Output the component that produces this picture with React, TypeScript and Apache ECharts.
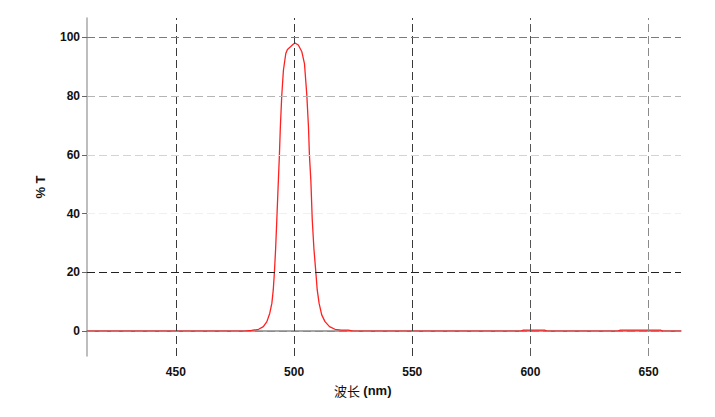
import React, { useEffect, useRef } from "react";
import * as echarts from "echarts";

const wavelength: number[] = [
  412.4, 479, 482, 485, 487, 488.5, 489.7, 490.6, 491.2, 491.7, 492.2, 492.7, 493.1, 493.4,
  493.8, 494.2, 494.8, 495.5, 496.5, 497.2, 498.5, 499.5, 500.4, 501.8, 503.3, 504.4, 505.4,
  506.1, 506.5, 507.1, 507.7, 508.4, 509.2, 509.8, 510.6, 511.7, 513.1, 515, 517.3, 520, 523,
  525, 596, 597, 606, 607, 637, 638, 655, 656, 663.7,
];
const transmission: number[] = [
  0, 0, 0.2, 0.6, 1.5, 3.2, 6, 9.4, 14, 20.2, 28, 37.8, 46, 52,
  59.9, 69.5, 80.3, 88.8, 94.5, 95.9, 96.8, 97.6, 98.1, 97.4, 95.1, 91.1, 80.3,
  69.5, 59.9, 51.4, 37.8, 28, 20.2, 14, 9.4, 5.5, 3.2, 1.5, 0.6, 0.3, 0.3,
  0, 0, 0.3, 0.3, 0, 0, 0.3, 0.3, 0, 0,
];

const xTicks: number[] = [450, 500, 550, 600, 650];
const yTicks: number[] = [0, 20, 40, 60, 80, 100];
const xGridColors: string[] = ["#3a3a3a", "#3a3a3a", "#3a3a3a", "#555555", "#8a8a8a"];
const yGridColors: string[] = ["#8a8a8a", "#222222", "#f0f0f0", "#d4d4d4", "#b4b4b4", "#7a7a7a"];

const X_MIN = 412.4;
const X_MAX = 663.7;
const Y_MIN = -8.5;
const Y_MAX = 106.6;

export default function App() {
  const ref = useRef<HTMLDivElement>(null);

  useEffect(() => {
    if (!ref.current) return;
    const chart = echarts.init(ref.current, undefined, { renderer: "svg" });
    const data = wavelength.map((w, i) => [w, transmission[i]]);
    const gridLines: any[] = [
      ...xTicks.map((v, i) => ({
        xAxis: v,
        lineStyle: { color: xGridColors[i], width: 1, type: [8, 4] },
      })),
      ...yTicks.map((v, i) => ({
        yAxis: v,
        lineStyle: { color: yGridColors[i], width: 1, type: [8, 4] },
      })),
    ];
    chart.setOption({
      animation: false,
      backgroundColor: "#ffffff",
      grid: { left: 87, top: 18, width: 594, height: 338, containLabel: false },
      xAxis: {
        type: "value",
        min: X_MIN,
        max: X_MAX,
        axisLine: { show: true, lineStyle: { color: "#888888", width: 1.5 } },
        axisTick: { show: false },
        splitLine: { show: false },
        axisLabel: {
          customValues: xTicks,
          margin: 10,
          color: "#111111",
          fontFamily: "Liberation Sans",
          fontWeight: "bold",
          fontSize: 12,
        },
      },
      yAxis: {
        type: "value",
        min: Y_MIN,
        max: Y_MAX,
        name: "% T",
        nameLocation: "middle",
        nameRotate: 90,
        nameGap: 40,
        nameTextStyle: {
          color: "#111111",
          fontFamily: "Liberation Sans",
          fontWeight: "bold",
          fontSize: 13,
        },
        axisLine: { show: true, lineStyle: { color: "#a8a8a8", width: 1.5 } },
        axisTick: {
          show: true,
          customValues: yTicks,
          length: 5,
          lineStyle: { color: "#666666", width: 1 },
        },
        splitLine: { show: false },
        axisLabel: {
          customValues: yTicks,
          margin: 7,
          color: "#111111",
          fontFamily: "Liberation Sans",
          fontWeight: "bold",
          fontSize: 12,
        },
      },
      graphic: [
        {
          type: "text",
          left: 334,
          top: 384,
          style: {
            text: "{a|波长} {b|(nm)}",
            rich: {
              a: { fontFamily: "Noto Sans CJK SC", fontSize: 13, fill: "#111111" },
              b: { fontFamily: "Liberation Sans", fontSize: 13, fontWeight: "bold", fill: "#111111" },
            },
          },
        },
      ],
      series: [
        {
          type: "line",
          data: [],
          z: 1,
          silent: true,
          markLine: {
            silent: true,
            symbol: "none",
            label: { show: false },
            emphasis: { disabled: true },
            data: gridLines,
          },
        },
        {
          type: "line",
          data,
          z: 3,
          showSymbol: false,
          symbol: "none",
          lineStyle: { color: "#ff2020", width: 1.3 },
          itemStyle: { color: "#ff2020" },
        },
      ],
    });
    return () => chart.dispose();
  }, []);

  return <div ref={ref} style={{ width: 715, height: 417, position: "absolute", left: 0, top: 0 }} />;
}
